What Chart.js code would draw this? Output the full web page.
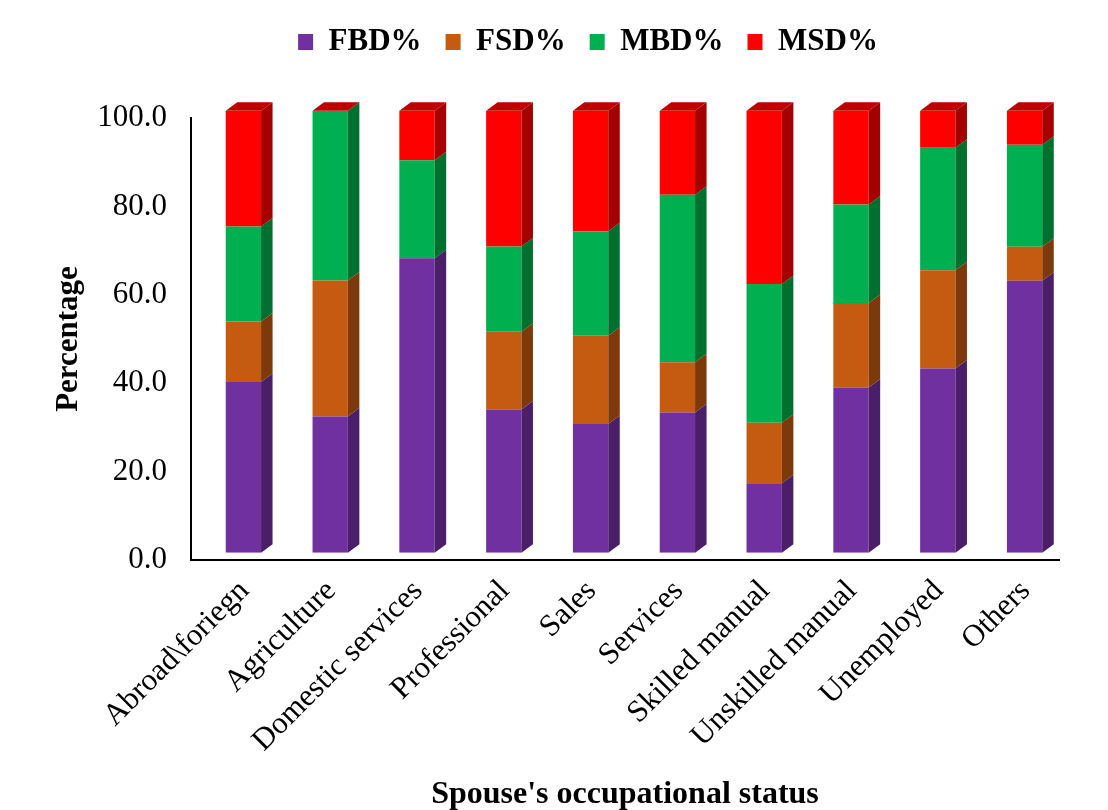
<!DOCTYPE html>
<html><head><meta charset="utf-8">
<script src="https://cdn.jsdelivr.net/npm/chart.js@4.4.1/dist/chart.umd.min.js"></script>
<style>html,body{margin:0;padding:0;background:#fff;} canvas{display:block;}</style>
</head><body>
<canvas id="c" width="1108" height="810"></canvas>
<script>
// ---- data ----
const categories = ['Abroad\\foriegn','Agriculture','Domestic services','Professional','Sales','Services','Skilled manual','Unskilled manual','Unemployed','Others'];
const fbd = [38.6, 30.8, 66.6, 32.4, 29.1, 31.7, 15.7, 37.4, 41.7, 61.5];
const fsd = [13.7, 30.8, 0.0, 17.6, 20.0, 11.4, 13.7, 19.1, 22.2, 7.7];
const mbd = [21.5, 38.4, 22.2, 19.3, 23.6, 37.9, 31.4, 22.3, 27.7, 23.1];
const msd = [26.2, 0.0, 11.2, 30.7, 27.3, 19.0, 39.2, 21.2, 8.4, 7.7];
const seriesNames = ['FBD%', 'FSD%', 'MBD%', 'MSD%'];
const yMin = 0, yMax = 100, yStep = 20;

// ---- styles ----
const frontColors = ['#7030A0', '#C55A11', '#00B050', '#FF0000'];
const sideColors  = ['#4A1E68', '#7E390B', '#00702F', '#A50000'];
const topColor = '#C00000';
const DEPTH_X = 11.5, DEPTH_Y = 8.5;   // 3D depth of the bars
const SHIFT_X = 9, SHIFT_Y = -7.3;     // front face offset from the wall
const FONT = "'Liberation Serif', 'Times New Roman', serif";
const LEGEND_PAD = 24, LEGEND_FONT = 31;

const threeD = {
  id: 'threeD',
  beforeDatasetsDraw(chart) { chart.ctx.save(); chart.ctx.translate(SHIFT_X, SHIFT_Y); },
  afterDatasetsDraw(chart) {
    const ctx = chart.ctx;
    const n = chart.data.datasets.length;
    for (let d = 0; d < n; d++) {
      const meta = chart.getDatasetMeta(d);
      meta.data.forEach((el) => {
        const p = el.getProps(['x', 'y', 'base', 'width'], true);
        const xl = p.x - p.width / 2, xr = p.x + p.width / 2;
        const top = Math.min(p.y, p.base), bot = Math.max(p.y, p.base);
        if (bot - top > 0.05) {
          ctx.fillStyle = sideColors[d];
          ctx.beginPath();
          ctx.moveTo(xr, top);
          ctx.lineTo(xr + DEPTH_X, top - DEPTH_Y);
          ctx.lineTo(xr + DEPTH_X, bot - DEPTH_Y);
          ctx.lineTo(xr, bot);
          ctx.closePath();
          ctx.fill();
        }
        if (d === n - 1) {
          ctx.fillStyle = topColor;
          ctx.beginPath();
          ctx.moveTo(xl, top);
          ctx.lineTo(xr, top);
          ctx.lineTo(xr + DEPTH_X, top - DEPTH_Y);
          ctx.lineTo(xl + DEPTH_X, top - DEPTH_Y);
          ctx.closePath();
          ctx.fill();
        }
      });
    }
    ctx.restore();
  }
};

const legendPlace = {
  id: 'legendPlace',
  afterLayout(chart) {
    const lg = chart.legend;
    if (!lg) return;
    const dy = (42 - LEGEND_PAD - LEGEND_FONT / 2) - lg.top;
    const dx = 588 - (lg.left + lg.right) / 2;
    lg.top += dy; lg.bottom += dy;
    lg.left += dx; lg.right += dx;
  }
};

const seriesValues = [fbd, fsd, mbd, msd];
new Chart(document.getElementById('c'), {
  type: 'bar',
  data: {
    labels: categories,
    datasets: seriesNames.map((name, i) => ({
      label: name,
      data: seriesValues[i],
      backgroundColor: frontColors[i],
      borderWidth: 0,
      categoryPercentage: 0.407,
      barPercentage: 1.0
    }))
  },
  options: {
    responsive: false,
    animation: false,
    layout: { padding: { left: 50, right: 49, top: 118 - (LEGEND_FONT + LEGEND_PAD + 10), bottom: 0 } },
    plugins: {
      legend: {
        position: 'top',
        labels: {
          boxWidth: 15, boxHeight: 16, padding: LEGEND_PAD,
          color: '#000',
          font: { family: FONT, size: LEGEND_FONT, weight: 'bold' }
        }
      },
      tooltip: { enabled: false }
    },
    scales: {
      x: {
        stacked: true,
        grid: { display: false, drawTicks: false },
        border: { display: true, color: '#000', width: 2 },
        ticks: {
          color: '#000', autoSkip: false, maxRotation: 45, minRotation: 45,
          padding: 13, labelOffset: 10,
          font: { family: FONT, size: 31 }
        },
        title: {
          display: true, text: "Spouse's occupational status", color: '#000',
          font: { family: FONT, size: 32, weight: 'bold', lineHeight: 0.95 }, padding: 0
        },
        afterFit(s) { s.height = 250; }
      },
      y: {
        stacked: true, min: yMin, max: yMax,
        grid: { display: false, drawTicks: false },
        border: { display: true, color: '#000', width: 2 },
        ticks: {
          stepSize: yStep, color: '#000', padding: 24,
          font: { family: FONT, size: 31 },
          callback: (v) => Number(v).toFixed(1)
        },
        title: {
          display: true, text: 'Percentage', color: '#000',
          font: { family: FONT, size: 31, weight: 'bold' }, padding: 0
        },
        afterFit(s) { s.width = 141; }
      }
    }
  },
  plugins: [threeD, legendPlace]
});
</script>
</body></html>
